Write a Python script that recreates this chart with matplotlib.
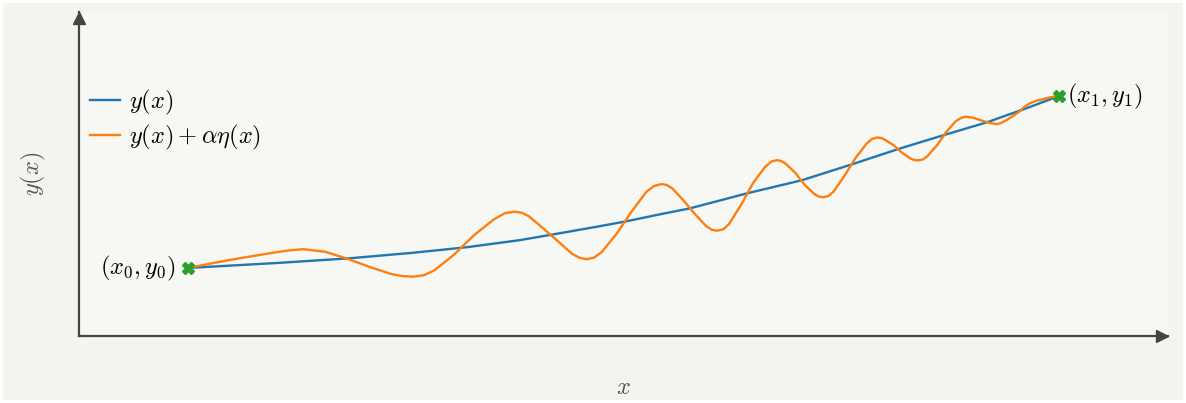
import matplotlib
matplotlib.use("Agg")
import matplotlib.pyplot as plt
from matplotlib.transforms import ScaledTranslation

plt.rcParams['mathtext.fontset'] = 'cm'

# curve y(x)
x_base = [1.00, 1.85, 2.49, 3.07, 3.56, 4.05, 4.36, 4.75, 5.01, 5.34,
          5.61, 6.13, 6.64, 7.08, 7.54, 7.94, 8.34, 8.70, 9.00]
y_base = [2.10, 2.26, 2.40, 2.57, 2.74, 2.96, 3.14, 3.37, 3.53, 3.76,
          3.94, 4.40, 4.81, 5.28, 5.79, 6.20, 6.60, 7.03, 7.41]

# perturbed curve y(x) + alpha*eta(x)
x_pert = [1.00, 1.20, 1.39, 1.60, 1.78, 1.92, 2.06, 2.26, 2.46, 2.67,
          2.87, 2.97, 3.07, 3.17, 3.26, 3.44, 3.63, 3.81, 3.91, 4.00,
          4.07, 4.13, 4.26, 4.40, 4.53, 4.60, 4.66, 4.73, 4.80, 4.94,
          5.07, 5.21, 5.28, 5.35, 5.40, 5.45, 5.55, 5.66, 5.76, 5.81,
          5.86, 5.92, 5.97, 6.08, 6.19, 6.30, 6.36, 6.41, 6.45, 6.49,
          6.58, 6.66, 6.75, 6.79, 6.83, 6.88, 6.93, 7.03, 7.13, 7.23,
          7.28, 7.33, 7.37, 7.40, 7.48, 7.55, 7.63, 7.66, 7.70, 7.75,
          7.79, 7.88, 7.96, 8.05, 8.10, 8.14, 8.21, 8.28, 8.36, 8.43,
          8.47, 8.52, 8.58, 8.64, 8.68, 8.73, 8.79, 8.85, 8.92, 9.00]
y_pert = [2.10, 2.23, 2.35, 2.47, 2.57, 2.64, 2.68, 2.60, 2.39, 2.13,
          1.91, 1.85, 1.83, 1.88, 2.02, 2.50, 3.12, 3.60, 3.79, 3.84,
          3.80, 3.70, 3.33, 2.92, 2.53, 2.41, 2.37, 2.42, 2.59, 3.17,
          3.82, 4.45, 4.63, 4.69, 4.66, 4.55, 4.19, 3.75, 3.39, 3.28,
          3.25, 3.30, 3.46, 4.05, 4.72, 5.22, 5.39, 5.43, 5.40, 5.32,
          5.03, 4.68, 4.39, 4.31, 4.28, 4.32, 4.46, 4.95, 5.49, 5.93,
          6.08, 6.13, 6.11, 6.06, 5.89, 5.68, 5.49, 5.44, 5.42, 5.45,
          5.55, 5.89, 6.28, 6.63, 6.73, 6.77, 6.74, 6.66, 6.58, 6.54,
          6.58, 6.67, 6.80, 6.94, 7.07, 7.18, 7.26, 7.31, 7.37, 7.41]

end_x = [1.00, 9.00]
end_y = [2.10, 7.41]
end_labels = [r'$(x_0, y_0)$', r'$(x_1, y_1)$']

fig = plt.figure(figsize=(11.86, 4.03), dpi=100)
fig.patch.set_facecolor('#f4f3ef')
fig.patch.set_edgecolor('white')
fig.patch.set_linewidth(4)
ax = fig.add_axes([0.0666, 0.1663, 0.9182, 0.8037])
ax.set_facecolor('#f7f7f3')

ax.plot(x_base, y_base, color='#1f77b4', lw=1.7, label=r'$y(x)$')
ax.plot(x_pert, y_pert, color='#ff7f0e', lw=1.7, label=r'$y(x) + \alpha\eta(x)$',
        solid_joinstyle='round')
ax.plot(end_x, end_y, 'X', color='#2ca02c', ms=9, zorder=5)

ax.annotate(end_labels[0], (end_x[0], end_y[0]), xytext=(-9, 0),
            textcoords='offset points', ha='right', va='center', fontsize=17.5)
ax.annotate(end_labels[1], (end_x[1], end_y[1]), xytext=(6, 0),
            textcoords='offset points', ha='left', va='center', fontsize=17.5)

ax.set_xlim(0, 10)
ax.set_ylim(0, 10)

# only left/bottom axis lines, with arrow heads at the ends
for side in ['top', 'right']:
    ax.spines[side].set_visible(False)
for side in ['left', 'bottom']:
    ax.spines[side].set_color('#444444')
    ax.spines[side].set_linewidth(1.6)
ax.plot(1, 0, '>', color='#444444', ms=9, clip_on=False,
        transform=ax.get_yaxis_transform() + ScaledTranslation(-4 / 72, 0, fig.dpi_scale_trans))
ax.plot(0, 1, '^', color='#444444', ms=9, clip_on=False,
        transform=ax.get_xaxis_transform() + ScaledTranslation(0, -4 / 72, fig.dpi_scale_trans))

ax.set_xticks([])
ax.set_yticks([])
ax.set_xlabel(r'$x$', fontsize=17.5, color='#555555', labelpad=28)
ax.set_ylabel(r'$y(x)$', fontsize=17.5, color='#555555', labelpad=22)

ax.legend(loc='upper left', bbox_to_anchor=(0.0, 0.80), frameon=False,
          fontsize=17.5, handlelength=1.25, handletextpad=0.35, labelspacing=0.25,
          borderaxespad=0.05)

fig.savefig('out.png', dpi=100, facecolor=fig.get_facecolor(), edgecolor=fig.get_edgecolor())
